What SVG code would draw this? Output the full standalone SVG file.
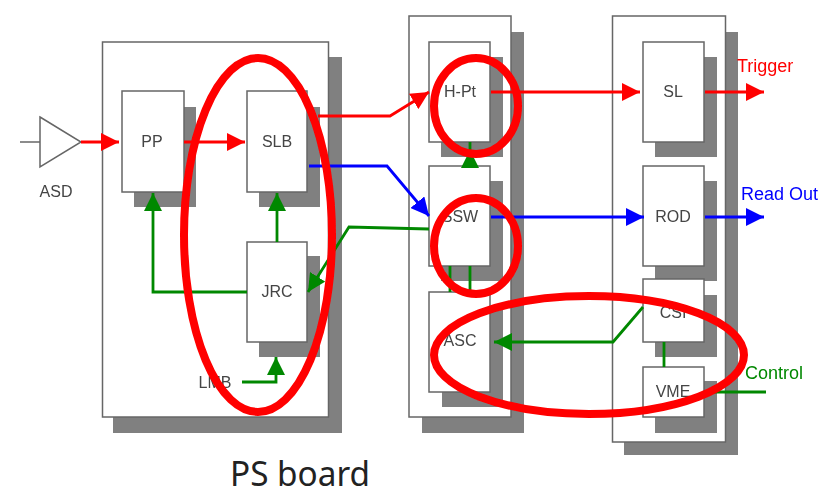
<svg xmlns="http://www.w3.org/2000/svg" width="825" height="495" viewBox="0 0 825 495">
<defs>
<style>
.shadow{fill:#808080}
.box{fill:#fff;stroke:#666;stroke-width:1.5}
.lbl{font-family:"Liberation Sans",Arial,sans-serif;font-size:16px;fill:#444;text-anchor:middle}
.sig{font-family:"Liberation Sans",Arial,sans-serif;font-size:18px}
.c{fill:none;stroke-width:2.800}
.r{stroke:#f00}.b{stroke:#00f}.g{stroke:#080}
.ring{fill:none;stroke:#f00;stroke-width:8}
</style>
<marker id="ar" markerUnits="userSpaceOnUse" markerWidth="20" markerHeight="18" refX="18" refY="9" orient="auto"><path d="M0 0L18 9L0 18z" fill="#f00"/></marker>
<marker id="ab" markerUnits="userSpaceOnUse" markerWidth="20" markerHeight="18" refX="18" refY="9" orient="auto"><path d="M0 0L18 9L0 18z" fill="#00f"/></marker>
<marker id="ag" markerUnits="userSpaceOnUse" markerWidth="20" markerHeight="18" refX="18" refY="9" orient="auto"><path d="M0 0L18 9L0 18z" fill="#080"/></marker>
<filter id="soft" x="-5%" y="-5%" width="110%" height="110%"><feGaussianBlur stdDeviation="0.7"/></filter>
</defs>
<rect width="825" height="495" fill="#fff"/>
<g filter="url(#soft)">
<g id="board-ps"><rect class="shadow" x="113" y="57" width="229" height="376"/><rect class="box" x="102.500" y="42" width="226" height="375"/></g>
<g id="board-mid"><rect class="shadow" x="422" y="32" width="102" height="401"/><rect class="box" x="409" y="16" width="102" height="401"/></g>
<g id="board-right"><rect class="shadow" x="624" y="32" width="114" height="423"/><rect class="box" x="612.500" y="16" width="113" height="426"/></g>
<g id="asd"><path d="M20 142H40" fill="none" stroke="#666" stroke-width="1.500"/><path d="M40 117L81 142L40 167Z" fill="#fff" stroke="#666" stroke-width="1.500"/><text class="lbl" x="56" y="197">ASD</text></g>
<g id="pp"><rect class="shadow" x="134" y="107" width="62" height="100"/><rect class="box" x="122" y="91" width="62" height="101"/><text class="lbl" x="152" y="147">PP</text></g>
<g id="slb"><rect class="shadow" x="259" y="107" width="61" height="100"/><rect class="box" x="247" y="91" width="60" height="101"/><text class="lbl" x="277" y="147">SLB</text></g>
<g id="jrc"><rect class="shadow" x="259" y="256" width="61" height="101"/><rect class="box" x="247" y="242" width="60" height="100"/><text class="lbl" x="277" y="297">JRC</text></g>
<g id="lmb"><text class="lbl" x="215" y="388">LMB</text></g>
<g id="hpt"><rect class="shadow" x="441" y="57" width="62" height="100"/><rect class="box" x="429" y="42" width="61" height="100"/><text class="lbl" x="460" y="97">H-Pt</text></g>
<g id="ssw"><rect class="shadow" x="441" y="181" width="62" height="100"/><rect class="box" x="429" y="166" width="61" height="100"/><text class="lbl" x="460" y="222">SSW</text></g>
<g id="asc"><rect class="shadow" x="442" y="307" width="61" height="100"/><rect class="box" x="429" y="292" width="61" height="100"/><text class="lbl" x="460" y="346">ASC</text></g>
<g id="sl"><rect class="shadow" x="655" y="57" width="62" height="100"/><rect class="box" x="643" y="42" width="61" height="100"/><text class="lbl" x="673" y="97">SL</text></g>
<g id="rod"><rect class="shadow" x="655" y="181" width="62" height="100"/><rect class="box" x="643" y="166" width="61" height="100"/><text class="lbl" x="673" y="222">ROD</text></g>
<g id="csi"><rect class="shadow" x="655" y="295" width="62" height="62"/><rect class="box" x="643" y="279" width="61" height="63"/><text class="lbl" x="673" y="318">CSI</text></g>
<g id="vme"><rect class="shadow" x="655" y="381" width="62" height="52"/><rect class="box" x="643" y="367" width="61" height="50"/><text class="lbl" x="673" y="397">VME</text></g>
<g id="connectors">
<path class="c r" marker-end="url(#ar)" d="M81 142H119"/>
<path class="c r" marker-end="url(#ar)" d="M184 142H245"/>
<path class="c r" marker-end="url(#ar)" d="M318 116H390L429 92"/>
<path class="c r" marker-end="url(#ar)" d="M491 92H640"/>
<path class="c r" marker-end="url(#ar)" d="M705 92H764"/>
<path class="c b" marker-end="url(#ab)" d="M309 166H387L429 216"/>
<path class="c b" marker-end="url(#ab)" d="M491 217H644"/>
<path class="c b" marker-end="url(#ab)" d="M705 217H764"/>
<path class="c g" marker-end="url(#ag)" d="M429 229L349 227L308 292"/>
<path class="c g" marker-end="url(#ag)" d="M277 242V193"/>
<path class="c g" marker-end="url(#ag)" d="M247 292H153V193"/>
<path class="c g" marker-end="url(#ag)" d="M242 382H276V357"/>
<path class="c g" marker-end="url(#ag)" d="M470 166V150"/>
<path class="c g" d="M470 150V142M450 266V292M470 266V292"/>
<path class="c g" marker-end="url(#ag)" d="M643 307L613 342H494"/>
<path class="c g" d="M664 342V367M704 392H766"/>
</g>
<text class="sig" x="737" y="72" fill="#f00">Trigger</text>
<text class="sig" x="741" y="200" fill="#00f">Read Out</text>
<text class="sig" x="745" y="379" fill="#080">Control</text>
<g id="highlights">
<ellipse class="ring" cx="258" cy="235" rx="74" ry="177"/>
<ellipse class="ring" cx="476" cy="106" rx="42" ry="48"/>
<ellipse class="ring" cx="476" cy="246" rx="42" ry="48"/>
<ellipse class="ring" cx="589" cy="355" rx="155" ry="59"/>
</g>
</g>
<text x="230" y="486" font-family="Noto Sans,sans-serif" font-size="35" fill="#222" textLength="140" lengthAdjust="spacingAndGlyphs">PS board</text>
</svg>
